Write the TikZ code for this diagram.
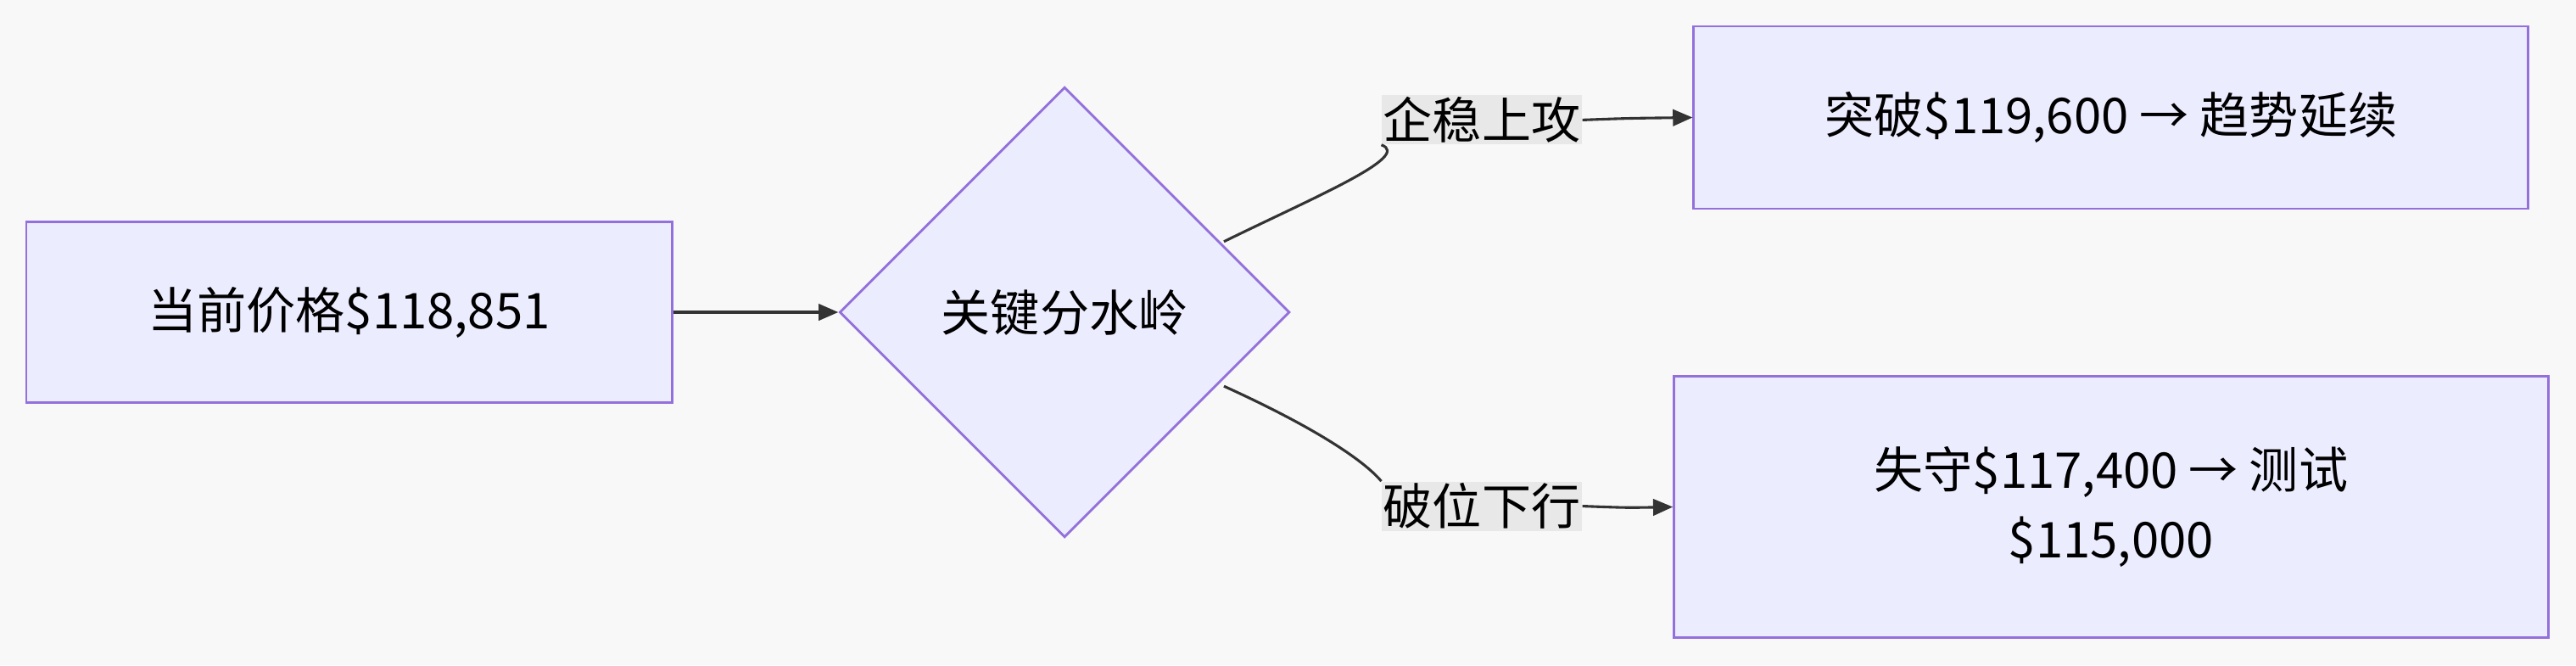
\documentclass[tikz,border=0pt]{standalone}
\usepackage{fontspec}
\setmainfont{Noto Sans CJK SC}
\usetikzlibrary{shapes.geometric,arrows.meta}
\definecolor{bg}{HTML}{F8F8F8}
\definecolor{nodefill}{HTML}{ECECFF}
\definecolor{nodeline}{HTML}{9370DB}
\definecolor{lblbg}{HTML}{E8E8E8}
\definecolor{edge}{HTML}{333333}
\tikzset{
  x=1pt,y=-1pt,
  box/.style={draw=nodeline,fill=nodefill,line width=1.5pt,inner sep=0,font=\fontsize{30}{42}\selectfont,align=center},
  lbl/.style={fill=lblbg,inner sep=1pt,font=\fontsize{30}{36}\selectfont},
  conn/.style={draw=edge,line width=1.6pt,-{Triangle[length=12pt,width=10pt]}},
  plain/.style={draw=edge,line width=1.6pt}
}
\begin{document}
\begin{tikzpicture}
\fill[bg] (0,0) rectangle (1568,405);
\useasboundingbox (0,0) rectangle (1568,405);
\node[box,minimum width=393pt,minimum height=110pt] (a) at (212.5,190) {当前价格\$118,851};
\node[box,diamond,minimum width=274pt,minimum height=274pt] (d) at (648,190) {关键分水岭};
\node[box,minimum width=508pt,minimum height=111pt] (t) at (1285,71.5) {突破\$119,600 → 趋势延续};
\node[box,minimum width=532pt,minimum height=159pt] (b) at (1285,308.5) {失守\$117,400 → 测试\\\$115,000};
\node[lbl] (l1) at (902,73) {企稳上攻};
\node[lbl] (l2) at (902,308) {破位下行};
\draw[conn] (a.east) -- (d.west);
\coordinate (s1) at (745,147);
\coordinate (s2) at (745,235);
\draw[plain] (s1) .. controls (800,120) and (860,95) .. (l1.south west);
\draw[conn] (l1.east) .. controls (990,72) .. (t.west);
\draw[plain] (s2) .. controls (800,260) and (830,280) .. (l2.north west);
\draw[conn] (l2.east) .. controls (990,309) .. (b.west);
\end{tikzpicture}
\end{document}
